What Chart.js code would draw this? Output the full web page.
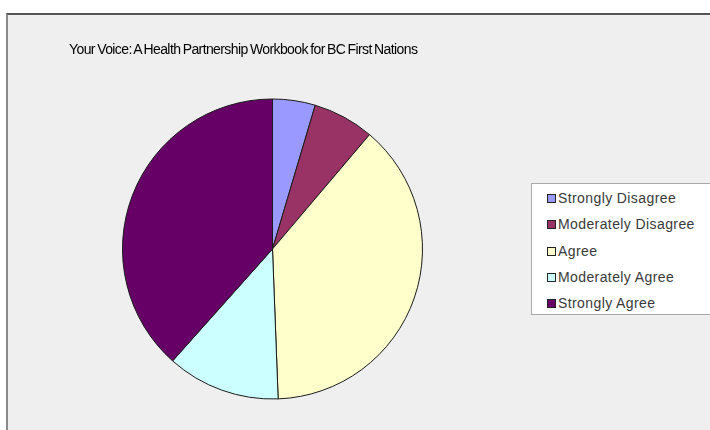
<!DOCTYPE html>
<html>
<head>
<meta charset="utf-8">
<script src="https://cdn.jsdelivr.net/npm/chart.js@4.4.1/dist/chart.umd.min.js"></script>
<style>
  html, body { margin: 0; padding: 0; background: #fff; }
  #frame {
    position: absolute; left: 6px; top: 13px; width: 704px; height: 417px;
    background: #efefef; border-top: 2px solid #555; border-left: 2px solid #8a8a8a;
    box-sizing: border-box;
  }
  #pie { position: absolute; left: 0; top: 0; }
  #title {
    position: absolute; left: 69px; top: 41px;
    font: 14px "Liberation Sans", Arial, sans-serif; color: #000;
    letter-spacing: -0.6px; word-spacing: -1px; white-space: nowrap;
  }
  #legend {
    position: absolute; left: 531px; top: 183px; width: 182px; height: 132px;
    background: #fff; border: 1px solid #aaa; box-sizing: border-box;
    font: 14px "Liberation Sans", Arial, sans-serif; color: #3a3a3a;
    letter-spacing: 0.4px;
  }
  #legend div { position: absolute; left: 15px; white-space: nowrap; line-height: 14px; }
  #legend span {
    display: inline-block; width: 7px; height: 7px; border: 1px solid #222;
    margin-right: 2px; vertical-align: 0px;
  }
</style>
</head>
<body>
<div id="frame"></div>
<canvas id="pie" width="710" height="430"></canvas>
<div id="title">Your Voice: A Health Partnership Workbook for BC First Nations</div>
<div id="legend"></div>
<script>
const categories = ['Strongly Disagree', 'Moderately Disagree', 'Agree', 'Moderately Agree', 'Strongly Agree'];
const shares = [4.6, 6.6, 38.2, 12.2, 38.4];
const sliceColors = ['#9999ff', '#993366', '#ffffcc', '#ccffff', '#660066'];

const chart = new Chart(document.getElementById('pie'), {
  type: 'pie',
  data: {
    labels: categories,
    datasets: [{
      data: shares,
      backgroundColor: sliceColors,
      borderColor: '#1a1a1a',
      borderWidth: 1
    }]
  },
  options: {
    responsive: false,
    animation: false,
    radius: 150,
    layout: { padding: { left: 0, right: 165, top: 68, bottom: 0 } },
    plugins: {
      legend: { display: false },
      tooltip: { enabled: false }
    }
  }
});

// legend rows built from the chart's own labels and colours
const legendEl = document.getElementById('legend');
chart.data.labels.forEach((label, i) => {
  const row = document.createElement('div');
  row.style.top = (7 + i * 26.3) + 'px';
  const box = document.createElement('span');
  box.style.background = chart.data.datasets[0].backgroundColor[i];
  row.appendChild(box);
  row.appendChild(document.createTextNode(label));
  legendEl.appendChild(row);
});
</script>
</body>
</html>
